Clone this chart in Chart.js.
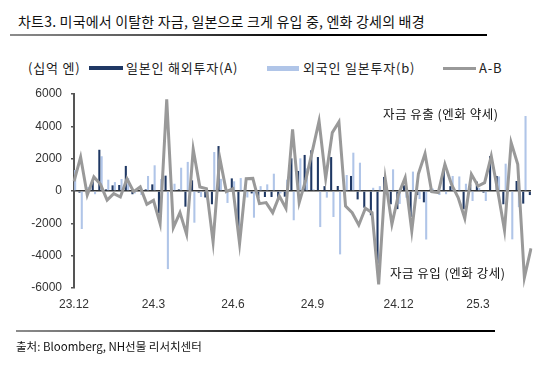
<!DOCTYPE html>
<html>
<head>
<meta charset="utf-8">
<script src="https://cdn.jsdelivr.net/npm/chart.js@4.4.1/dist/chart.umd.min.js"></script>
<style>
  body { margin: 0; background: #fff; }
  .wrap { position: relative; width: 553px; height: 370px; font-family: "Noto Sans CJK KR", "Liberation Sans", sans-serif; color: #222; }
  .wrap canvas { position: absolute; left: 0; top: 0; }
  .title { position: absolute; left: 18px; top: 11px; font-size: 14px; letter-spacing: 0.2px; color: #111; white-space: nowrap; }
  .rule { position: absolute; height: 2px; background: linear-gradient(to right, #8c8c8c, #555 30%, #000 60%); }
  .legend span { position: absolute; white-space: nowrap; font-size: 13px; letter-spacing: 0.8px; line-height: 16px; top: 60px; }
  .legend i { position: absolute; display: block; }
  .note { position: absolute; font-size: 12.5px; letter-spacing: 0.5px; white-space: nowrap; color: #111; }
  .source { position: absolute; left: 16px; top: 338px; font-size: 11.5px; color: #111; white-space: nowrap; }
</style>
</head>
<body>
<div class="wrap">
  <div class="title">차트3. 미국에서 이탈한 자금, 일본으로 크게 유입 중, 엔화 강세의 배경</div>
  <div class="rule" style="left:10px; top:34px; width:477px;"></div>
  <div class="legend">
    <span style="left:28px;">(십억 엔)</span>
    <i id="boxA" style="left:89px; top:66px; width:34px; height:4px;"></i>
    <span style="left:126px;">일본인 해외투자(A)</span>
    <i id="boxB" style="left:267px; top:66px; width:32px; height:5px;"></i>
    <span style="left:303px;">외국인 일본투자(b)</span>
    <i id="boxLine" style="left:443px; top:67px; width:33px; height:3px;"></i>
    <span style="left:479px;">A-B</span>
  </div>
  <canvas id="chart" width="553" height="370"></canvas>
  <div class="note" style="left:383px; top:104px;">자금 유출 (엔화 약세)</div>
  <div class="note" style="left:390px; top:263px;">자금 유입 (엔화 강세)</div>
  <div class="rule" style="left:16px; top:330px; width:479px;"></div>
  <div class="source">출처: Bloomberg, NH선물 리서치센터</div>
</div>
<script>
// DATA (weekly, 십억 엔)
const japanOut = [
  1900, -100, 0, 600, 2550, 100, 350, 370, 1550, -200,
  0, 100, 410, -1380, 950, 0, 100, -970, 660, -100,
  -400, -820, 2780, 0, 780, -2450, 300, -150, -450, -370,
  -370, -450, -350, 2020, 1240, 2230, 2520, 2100, 300, 2100,
  310, 50, 930, -520, -1030, -1500, -4500, 870, -820, -1120,
  350, -1600, -250, -700, 100, 0, 1380, 300, 0, -1130,
  410, 580, -100, 2160, 930, -820, 0, 620, -780, -250
];
const foreignIn = [
  1300, -2350, 250, -200, 2150, 700, 550, 740, 800, -150,
  -250, 930, 1590, 740, -4830, 450, 1440, 1800, -1960, -370,
  -560, 2410, 750, -740, 600, 800, -400, -1650, 300, 410,
  1070, -150, 700, -1810, 2020, 1400, 100, -2230, -410, -1610,
  -3920, 990, 2370, 1750, 50, 200, 300, 150, 1340, -800,
  -410, 1200, -500, -3000, 150, -250, -200, 930, 900, 450,
  -620, 200, -620, 0, 900, 1690, -2990, -1000, 4640, 3400
];
const netFlow = [
  600, 2100, -250, 870, 410, -560, -165, -370, 760, -40,
  250, -825, -580, -2020, 5670, -2270, -1340, -2680, 2580, 250,
  145, -3150, 2060, -40, 145, -3260, 760, 780, -780, -720,
  -1340, -310, -1070, 3810, -720, 700, 2500, 4330, 780, 3610,
  4270, -930, -1340, -2100, -1070, -1340, -5770, 720, -2060, -200,
  820, -2470, 1070, 2310, -40, -100, 1650, 410, -410, -1690,
  1030, 310, 515, 2160, -40, -2430, 2990, 1650, -5360, -3550
];
const tickLabels = ['23.12', '24.3', '24.6', '24.9', '24.12', '25.3'];
const tickPositions = [0, 12, 24, 36, 49, 61];

// COLORS
const darkBlue = '#1f3864';
const lightBlue = '#b0c5e8';
const gray = '#999999';

document.getElementById('boxA').style.background = darkBlue;
document.getElementById('boxB').style.background = lightBlue;
document.getElementById('boxLine').style.background = gray;

const labels = netFlow.map((v, i) => {
  const k = tickPositions.indexOf(i);
  return k >= 0 ? tickLabels[k] : '';
});

const tickFont = { family: 'Liberation Sans, Arial, sans-serif', size: 12 };

new Chart(document.getElementById('chart'), {
  type: 'bar',
  data: {
    labels: labels,
    datasets: [
      {
        type: 'line',
        label: 'A-B',
        data: netFlow,
        borderColor: gray,
        borderWidth: 3,
        pointRadius: 0,
        tension: 0,
        order: 0
      },
      {
        label: '일본인 해외투자(A)',
        data: japanOut,
        backgroundColor: darkBlue,
        categoryPercentage: 0.7,
        barPercentage: 0.9,
        order: 1
      },
      {
        label: '외국인 일본투자(b)',
        data: foreignIn,
        backgroundColor: lightBlue,
        categoryPercentage: 0.7,
        barPercentage: 0.9,
        order: 2
      }
    ]
  },
  options: {
    responsive: false,
    animation: false,
    devicePixelRatio: 1,
    layout: { padding: { top: 94, left: 20, right: 22, bottom: 52 } },
    plugins: { legend: { display: false }, tooltip: { enabled: false } },
    scales: {
      x: {
        offset: false,
        grid: { display: false, drawTicks: false },
        border: { display: false },
        ticks: { autoSkip: false, maxRotation: 0, padding: 9, color: '#333', font: tickFont },
        afterFit: (scale) => { scale.height = 30; }
      },
      y: {
        min: -6000,
        max: 6000,
        ticks: { stepSize: 2000, padding: 9, color: '#333', font: tickFont, callback: (v) => String(v) },
        grid: {
          color: (ctx) => ctx.tick && ctx.tick.value === 0 ? '#333' : 'rgba(0,0,0,0)',
          lineWidth: 1.5,
          tickColor: '#555',
          tickLength: 3
        },
        border: { color: '#555', width: 2 },
        afterFit: (scale) => { scale.width = 54; }
      }
    }
  }
});
</script>
</body>
</html>
